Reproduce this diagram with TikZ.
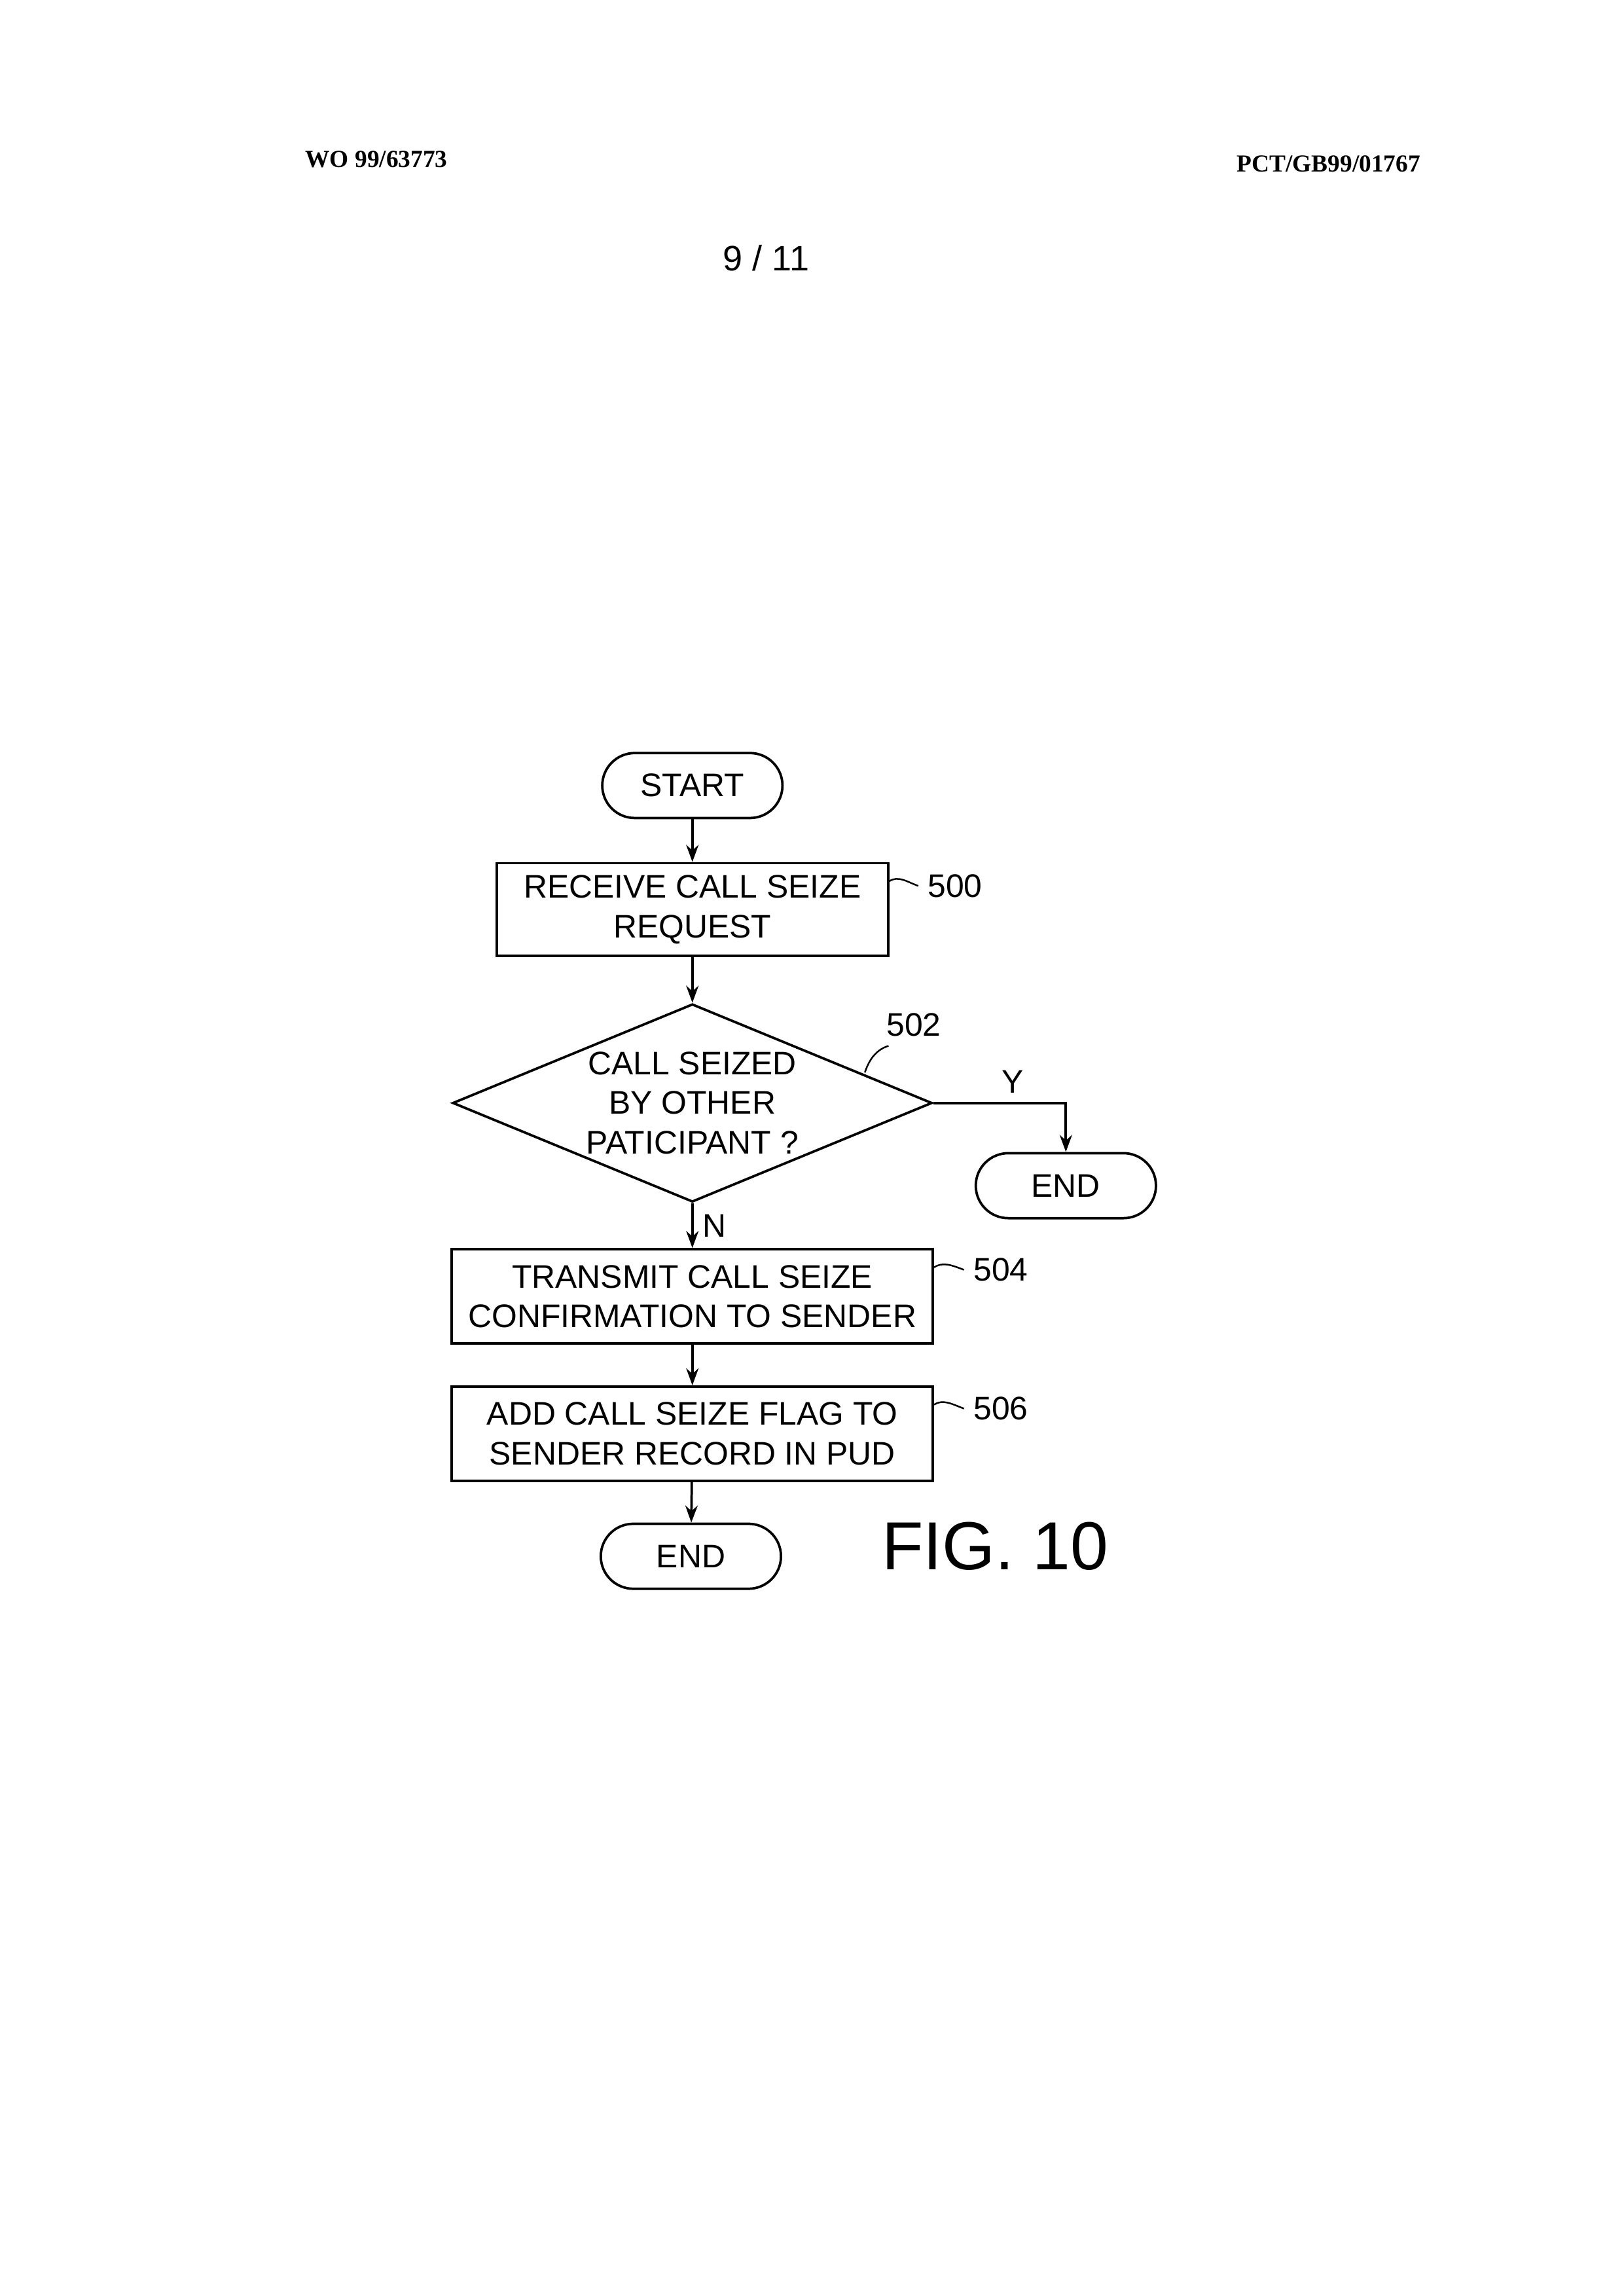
\documentclass[tikz,border=0pt]{standalone}
\usepackage{fontspec}
\setmainfont{Liberation Sans}
\newfontfamily\hdrfont{Liberation Serif}
\usetikzlibrary{positioning,shapes.geometric,arrows.meta}
\begin{document}
\begin{tikzpicture}[x=0.019091cm,y=-0.019091cm,
    term/.style={draw,rounded corners=0.42cm,line width=0.9pt,minimum width=2.33cm,minimum height=0.84cm,font=\fontsize{12}{14}\selectfont},
    proc/.style={draw,rectangle,line width=0.9pt,minimum width=6.22cm,minimum height=1.22cm,align=center,font=\fontsize{12}{14.5}\selectfont},
    dec/.style={draw,diamond,line width=0.9pt,aspect=2.43,inner sep=0pt,minimum width=6.2cm,minimum height=2.56cm,align=center,font=\fontsize{12}{14.5}\selectfont},
    lbl/.style={font=\fontsize{12}{14}\selectfont,anchor=west},
    flow/.style={-{Stealth[length=2.2mm,width=1.6mm]},line width=0.9pt}
  ]
    \useasboundingbox (0,0) rectangle (1100,1555);
    % header
    \node[font=\hdrfont\bfseries\fontsize{9}{11}\selectfont] (hl) at (255,108) {WO 99/63773};
    \node[font=\hdrfont\bfseries\fontsize{9}{11}\selectfont] (hr) at (900,111) {PCT/GB99/01767};
    \node[font=\fontsize{13}{15}\selectfont] (pg) at (519,175) {9 / 11};

    % flow chart
    \node[term] (start) at (469,532) {START};
    \node[proc,minimum width=5.06cm,minimum height=1.2cm] (s500) at (469,616) {RECEIVE CALL SEIZE\\REQUEST};
    \node[dec] (s502) at (469,747) {CALL SEIZED\\BY OTHER\\PATICIPANT ?};
    \node[term] (endy) at (722,803) {END};
    \node[proc] (s504) at (469,878) {TRANSMIT CALL SEIZE\\CONFIRMATION TO SENDER};
    \node[proc] (s506) at (469,971) {ADD CALL SEIZE FLAG TO\\SENDER RECORD IN PUD};
    \node[term] (endn) at (468,1054) {END};
    \node[font=\fontsize{25}{30}\selectfont] (fig) at (674,1047) {FIG. 10};

    % reference numerals
    \node[lbl] (l500) at (622,600) {500};
    \node[lbl] (l502) at (594,694) {502};
    \node[lbl] (l504) at (653,860) {504};
    \node[lbl] (l506) at (653,954) {506};
    \draw[line width=0.6pt] (l500.west) .. controls +(-8,-3) and +(6,-4) .. ([yshift=-0.25cm]s500.north east);
    \draw[line width=0.6pt] ([xshift=0.15cm]l502.south west) .. controls +(-10,3) and +(2,-6) .. ++(-16,18);
    \draw[line width=0.6pt] (l504.west) .. controls +(-8,-3) and +(6,-4) .. ([yshift=-0.25cm]s504.north east);
    \draw[line width=0.6pt] (l506.west) .. controls +(-8,-3) and +(6,-4) .. ([yshift=-0.25cm]s506.north east);

    % connectors
    \draw[flow] (start) -- (s500);
    \draw[flow] (s500) -- (s502);
    \draw[flow] (s502.east) -| node[pos=0.3,above,font=\fontsize{12}{14}\selectfont] {Y} (endy.north);
    \draw[flow] (s502) -- node[right,font=\fontsize{12}{14}\selectfont] {N} (s504);
    \draw[flow] (s504) -- (s506);
    \draw[flow] (s506) -- (endn);
\end{tikzpicture}
\end{document}
